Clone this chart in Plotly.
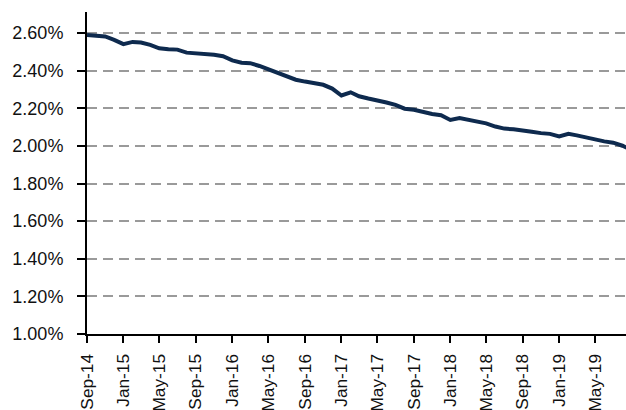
import pandas as pd
import plotly.graph_objects as go

# Monthly values, Sep-14 .. Sep-19 (percent)
months = list(pd.date_range("2014-09-01", periods=61, freq="MS"))
values = [
    2.590, 2.585, 2.582, 2.564, 2.541, 2.553, 2.550, 2.537, 2.519, 2.514,
    2.512, 2.496, 2.492, 2.493, 2.485, 2.477, 2.455, 2.442, 2.440, 2.425,
    2.407, 2.394, 2.371, 2.352, 2.342, 2.333, 2.325, 2.305, 2.268, 2.285,
    2.264, 2.252, 2.243, 2.231, 2.218, 2.198, 2.192, 2.180, 2.170, 2.163,
    2.138, 2.148, 2.140, 2.132, 2.120, 2.103, 2.092, 2.088, 2.084, 2.075,
    2.068, 2.064, 2.050, 2.064, 2.056, 2.044, 2.036, 2.024, 2.017, 2.001,
    1.978,
]
y_ticks = [1.0, 1.2, 1.4, 1.6, 1.8, 2.0, 2.2, 2.4, 2.6]
y_tick_labels = [f"{v:.2f}%" for v in y_ticks]

fig = go.Figure()
fig.add_trace(go.Scatter(
    x=months, y=values, mode="lines",
    line=dict(color="#0e2a4e", width=4),
    hoverinfo="skip",
))

font = dict(family="Liberation Sans, Arial, sans-serif", size=18, color="#111111")
xfont = dict(family="Liberation Sans, Arial, sans-serif", size=17.3, color="#111111")

fig.update_layout(
    width=626, height=410,
    margin=dict(l=87, r=0, t=12, b=76, autoexpand=False),
    paper_bgcolor="white", plot_bgcolor="white",
    showlegend=False,
    font=font,
)
fig.update_xaxes(
    type="date",
    range=["2014-09-01", "2019-08-13"],
    tick0="2014-09-01", dtick="M4", tickformat="%b-%y",
    tickangle=-90,
    ticks="outside", ticklen=7, tickwidth=2, tickcolor="black",
    showline=True, linecolor="black", linewidth=2,
    showgrid=False, zeroline=False,
    tickfont=xfont,
    ticklabelstandoff=4,
    automargin=False,
)
fig.update_yaxes(
    range=[1.0, 2.712],
    tickvals=y_ticks, ticktext=y_tick_labels,
    ticks="outside", ticklen=8, tickwidth=2, tickcolor="black",
    showline=True, linecolor="black", linewidth=2,
    showgrid=True, gridcolor="#9a9a9a", gridwidth=2, griddash="10px,6px",
    zeroline=False,
    tickfont=font,
    ticklabelstandoff=10,
    automargin=False,
)

fig.write_html(
    "out.html",
    config={"displayModeBar": False, "staticPlot": True},
    post_script="document.body.style.margin='0';",
)
